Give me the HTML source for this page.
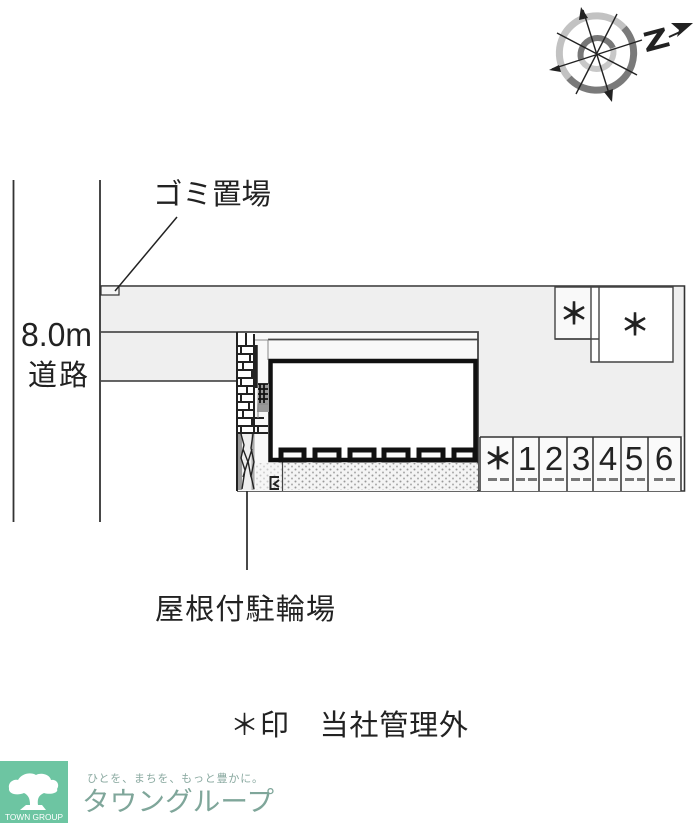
<!DOCTYPE html>
<html lang="ja"><head><meta charset="utf-8"><style>
html,body{margin:0;padding:0;background:#fff}
svg{display:block}
text{font-family:"Liberation Sans","Noto Sans CJK JP",sans-serif;fill:#222}
</style></head><body>
<svg width="700" height="823" viewBox="0 0 700 823" xmlns="http://www.w3.org/2000/svg">
<defs>
<pattern id="d" width="7" height="6" patternUnits="userSpaceOnUse"><rect width="7" height="6" fill="#f4f4f4"/><circle cx="1.500" cy="1.500" r="1" fill="#999"/><circle cx="5" cy="4.500" r="1" fill="#aaa"/></pattern>
</defs>

<!-- compass -->
<g fill="none">
<path d="M569 78A37 37 0 0 1 624 28" stroke="#c2c2c2" stroke-width="7"/>
<path d="M624 28A37 37 0 0 1 569 78" stroke="#7a7a7a" stroke-width="7"/>
<path d="M581 59A17 17 0 0 1 613 48" stroke="#777" stroke-width="6"/>
<path d="M613 48A17 17 0 0 1 581 59" stroke="#c8c8c8" stroke-width="6"/>
<g stroke="#222" stroke-width="1.400">
<path d="M583 10L611 100"/>
<path d="M617 14L576 94"/><path d="M557 33L637 75"/>
<path d="M552 69L642 40"/>
</g>
</g>
<path d="M581 7L588 18L579 20z M612 102L604 92L613 89z M549 70L559 65L561 72z" fill="#222"/>
<text x="643" y="49" font-size="27" font-weight="bold" transform="rotate(-15 655 38)" textLength="25" lengthAdjust="spacingAndGlyphs" stroke="#222" stroke-width=".8">Z</text>
<path d="M669 37L680 32" stroke="#222" stroke-width="2"/>
<path d="M671 23L693 23L677 37L679 30z" fill="#222"/>

<!-- road -->
<path d="M13.500 180V522M100 180V522" stroke="#333" stroke-width="1.800"/>

<!-- site gray -->
<path d="M101 287H684V437H479V332H238V381H101z" fill="#efefef"/>
<path d="M101 286H684.500V491H237M101 332H237M101 381H237" fill="none" stroke="#333" stroke-width="1.600"/>

<!-- boxes -->
<path d="M555 287H599V339H555z" fill="#f9f9f9" stroke="#444" stroke-width="1.400"/>
<path d="M591 287H673V362H591z" fill="#fff" stroke="#444" stroke-width="1.400"/>
<path d="M599 287V362M555 339H599" stroke="#444" stroke-width="1.400" fill="none"/>

<!-- building ground -->
<rect x="237" y="332" width="241" height="159" fill="#f8f8f8"/>
<path d="M237 332H478V491" fill="none" stroke="#444" stroke-width="1.800"/>
<path d="M268 339.500H478" stroke="#444" stroke-width="1.800"/>
<rect x="283" y="463" width="195" height="27" fill="url(#d)"/>
<rect x="256" y="463" width="26" height="27" fill="url(#d)" opacity=".5"/>
<path d="M282.500 461V491" stroke="#444" stroke-width="1.200"/>

<!-- building -->
<rect x="270.500" y="361" width="205" height="99" fill="#fff" stroke="#111" stroke-width="4.500"/>
<g fill="#fbfbfb" stroke="#111" stroke-width="5">
<rect x="281" y="450" width="23" height="10"/>
<rect x="315" y="450" width="24" height="10"/>
<rect x="350" y="450" width="24" height="10"/>
<rect x="384" y="450" width="24" height="10"/>
<rect x="419" y="450" width="24" height="10"/>
<rect x="454" y="450" width="21" height="10"/>
</g>

<!-- bricks -->
<rect x="238" y="333" width="17" height="101" fill="#fff"/>
<g stroke="#222" stroke-width="2" fill="none">
<path d="M237 332V491M254 334V433"/>
<path d="M238 346H254M238 354H254M238 362H254M238 370H254M238 378H254M238 386H254M238 394H254M238 402H254M238 410H254M238 418H264M238 426H268M238 433H268"/>
<path d="M246 333V346M241 346V354M250 354V362M243 362V370M252 370V378M241 378V386M247 386V394M241 394V402M249 402V410M243 410V418M252 418V426M241 426V433M258 426V433"/>
</g>
<path d="M256 345V388" stroke="#222" stroke-width="3.500"/>
<path d="M258 384H269V412H257z" fill="#999"/>
<path d="M258 384H268M258 389H268M258 394H268M258 399H268M260 384V403M264 384V403" stroke="#111" stroke-width="1.800"/>
<path d="M255 340H268V360" fill="none" stroke="#888" stroke-width="1"/>
<path d="M258 418V404H268" fill="none" stroke="#888" stroke-width="1"/>

<!-- bike area -->
<rect x="238" y="434" width="17" height="56" fill="#eee"/>
<path d="M240 434V490" stroke="#999" stroke-width="4"/>
<path d="M253 434V490" stroke="#aaa" stroke-width="3"/>
<path d="M241 434L244 445L241 458L245 470L242 489M253 434L251 448L254 462L251 476L254 489M243 449L248 462L252 449M243 477L248 461L251 477" fill="none" stroke="#222" stroke-width="1.400"/>
<path d="M279 477H270.500V489H279M279 480L274 484L279 487" fill="none" stroke="#222" stroke-width="2"/>

<!-- parking -->
<rect x="480" y="437" width="201" height="54" fill="#fafafa"/>
<path d="M480 437H681V491M480 437V491M513 437V491M539 437V491M567 437V491M593 437V491M621 437V491M648 437V491" fill="none" stroke="#333" stroke-width="1.500"/>
<g stroke="#777" stroke-width="3" stroke-dasharray="9 3" fill="none">
<path d="M488 479.500H510M516 479.500H537M543 479.500H564M571 479.500H591M597 479.500H618M625 479.500H645M654 479.500H676"/>
</g>
<g font-size="33" text-anchor="middle">
<text x="527" y="470">1</text><text x="554" y="470">2</text><text x="581" y="470">3</text><text x="608" y="470">4</text><text x="634" y="470">5</text><text x="664" y="470">6</text>
</g>
<g font-size="29" text-anchor="middle" stroke="#222" stroke-width="1">
<text x="498" y="469">＊</text>
<text x="574" y="324">＊</text>
<text x="635" y="335">＊</text>
</g>

<!-- dumpster + leaders -->
<rect x="101" y="286" width="18" height="9" fill="#f6f6f6" stroke="#333" stroke-width="1.200"/>
<path d="M115 291L177 217" stroke="#222" stroke-width="1.500"/>
<path d="M247 491V570" stroke="#333" stroke-width="1.800"/>

<!-- labels -->
<text x="153" y="204" font-size="29" textLength="118" lengthAdjust="spacingAndGlyphs">ゴミ置場</text>
<text x="21" y="346" font-size="33" textLength="71" lengthAdjust="spacingAndGlyphs">8.0m</text>
<text x="28" y="385" font-size="29" textLength="60">道路</text>
<text x="155" y="619" font-size="29" textLength="180">屋根付駐輪場</text>
<text x="230" y="735" font-size="29" textLength="238">＊印　当社管理外</text>

<!-- logo -->
<rect x="0" y="761" width="68" height="62" fill="#6dc5a2"/>
<path d="M9 788C8 782 14 779 18 780C22 773 31 772 36 775C42 772 50 775 51 780C57 779 60 785 57 789C59 793 50 795 44 793C40 795 37 797 38 805H42L46 810H20L26 805H30C30 798 28 795 24 793C17 796 8 794 9 788z" fill="#fff"/>
<text x="34" y="820" font-size="8" text-anchor="middle" style="fill:#fff" textLength="58" lengthAdjust="spacingAndGlyphs">TOWN GROUP</text>
<text x="87" y="782" font-size="11" style="fill:#8aa9a0" textLength="176">ひとを、まちを、もっと豊かに。</text>
<text x="82" y="811" font-size="27" style="fill:#7fa69a" textLength="192" lengthAdjust="spacingAndGlyphs">タウングループ</text>
</svg>
</body></html>
